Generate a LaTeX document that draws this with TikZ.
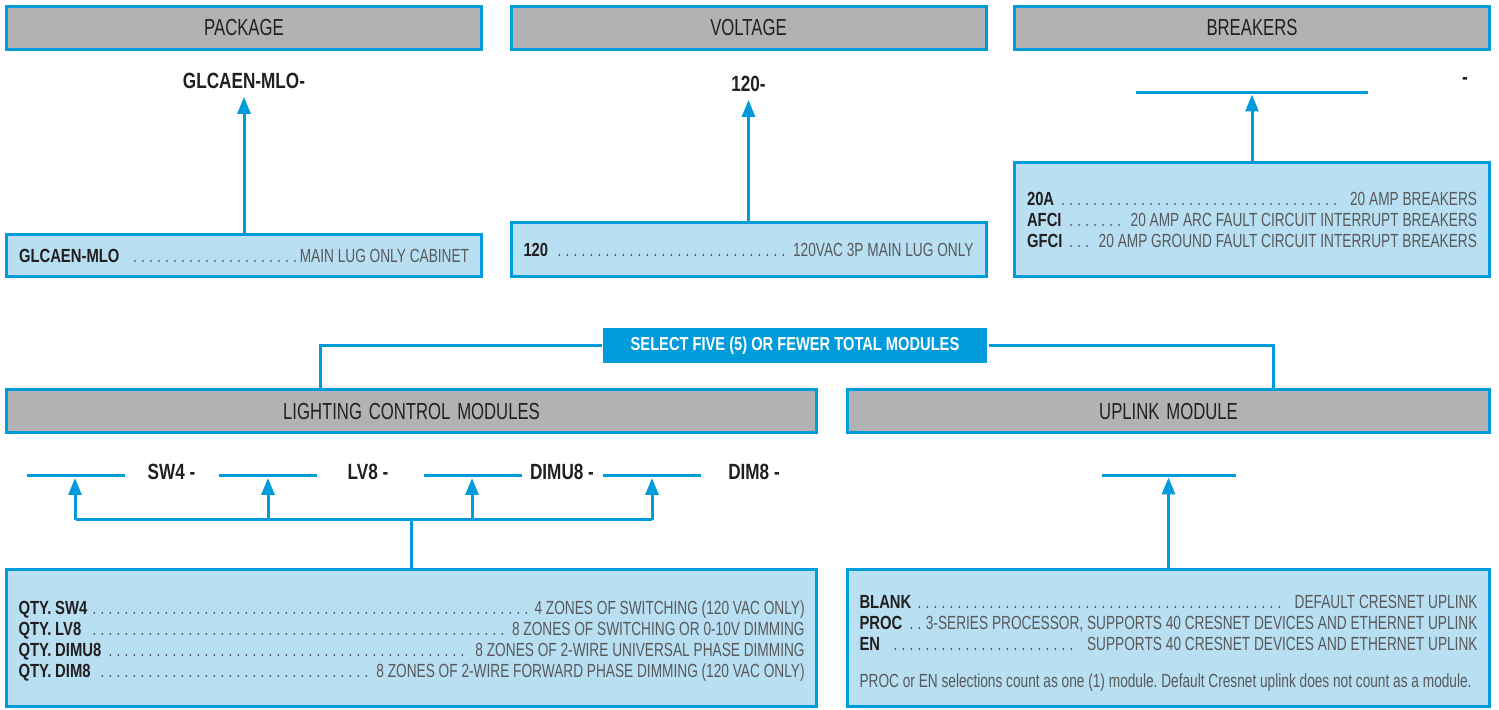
\documentclass[tikz,border=0pt]{standalone}
\usepackage{fontspec}
\setmainfont{Liberation Sans}[FakeStretch=0.72,BoldFeatures={FakeStretch=0.78}]
\usetikzlibrary{arrows.meta}
\usetikzlibrary{positioning}
\definecolor{lineblue}{RGB}{0,155,219}
\definecolor{boxblue}{RGB}{184,223,242}
\definecolor{hdrgray}{RGB}{177,178,180}
\definecolor{inkdark}{RGB}{35,31,32}
\definecolor{descgray}{RGB}{88,89,91}
\newcommand{\dotlead}{\leaders\hbox to 4pt{\hss.\hss}\hfill}
\newcommand{\optname}[1]{\textbf{\color{inkdark}#1}}
\frenchspacing
\begin{document}
\begin{tikzpicture}[
				x=0.5pt, y=-0.5pt,
				line width=1.5pt,
				hdr/.style={draw=lineblue, fill=hdrgray, inner sep=0pt, minimum height=21.5pt, text=inkdark, font=\fontsize{11.6}{13}\selectfont, execute at begin node={\spaceskip=3.4pt\relax}},
				infobox/.style={draw=lineblue, fill=boxblue, inner sep=0pt, align=left, text=descgray, font=\fontsize{9.5}{10.5}\selectfont, execute at begin node={\spaceskip=1.9pt plus 0.5pt\relax}},
				partno/.style={text=inkdark, font=\fontsize{11}{13}\selectfont\bfseries},
				blank/.style={inner sep=0pt, minimum height=0pt},
				arrow/.style={draw=lineblue, -{Triangle[length=8.5pt,width=6.5pt]}},
				link/.style={draw=lineblue},
			]
				\useasboundingbox (0,0) rectangle (1499,710);
				
				\node[hdr, minimum width=237.5pt] (package) at (244,28) {PACKAGE};
				\node[hdr, minimum width=237.5pt] (voltage) at (748.5,28) {VOLTAGE};
				\node[hdr, minimum width=237.5pt] (breakers) at (1252,28) {BREAKERS};
				
				\node[partno] (pkgcode) at (244,81) {GLCAEN-MLO-};
				\node[partno] (volcode) at (748.5,84) {120-};
				\node[blank, minimum width=114.5pt] (brkblank) at (1252,93) {};
				\node[partno] (brkdash) at (1465,81) {-};
				
				\node[infobox, minimum width=237.5pt, minimum height=21pt, text width=225pt] (pkgbox) at (244,255.5) {\optname{GLCAEN-MLO} \dotlead MAIN LUG ONLY CABINET};
				\node[infobox, minimum width=237.5pt, minimum height=27pt, text width=225pt] (volbox) at (748.5,249.5) {\optname{120} \dotlead 120VAC 3P MAIN LUG ONLY};
				\node[infobox, minimum width=237.5pt, minimum height=57pt, text width=225pt] (brkbox) at (1252,219.5) {\optname{20A} \dotlead\ 20 AMP BREAKERS\\
					\optname{AFCI} \dotlead\ 20 AMP ARC FAULT CIRCUIT INTERRUPT BREAKERS\\
					\optname{GFCI} \dotlead 20 AMP GROUND FAULT CIRCUIT INTERRUPT BREAKERS};
				
				\draw[arrow] (pkgbox) -- (pkgcode);
				\draw[arrow] (volbox) -- (volcode);
				\draw[link] (brkblank.west) -- (brkblank.east);
				\draw[arrow] (brkbox) -- (brkblank);
				
				\node[fill=lineblue, text=white, inner sep=0pt, minimum width=192pt, minimum height=17.5pt, font=\fontsize{9.4}{11}\selectfont\bfseries] (banner) at (795,345.5) {SELECT FIVE (5) OR FEWER TOTAL MODULES};
				\node[hdr, minimum width=405pt] (lcm) at (411.5,411.5) {LIGHTING CONTROL MODULES};
				\node[hdr, minimum width=321pt] (uplink) at (1168.5,411.5) {UPLINK MODULE};
				\coordinate (lcmtap) at (320,390);
				\coordinate (uptap) at (1273,390);
				\draw[link] (banner.west) -| (lcmtap);
				\draw[link] (banner.east) -| (uptap);
				
				\foreach \name/\x in {sw4/75.5, lv8/267.5, dimu8/472.5, dim8/651.5}
					\node[blank, minimum width=47.5pt] (b\name) at (\x,476) {};
				\node[partno] (lsw4) at (171.5,472) {SW4 -};
				\node[partno] (llv8) at (368,472) {LV8 -};
				\node[partno] (ldimu8) at (562,472) {DIMU8 -};
				\node[partno] (ldim8) at (754,472) {DIM8 -};
				\node[blank, minimum width=65.5pt] (upblank) at (1168.5,476) {};
				
				\node[infobox, minimum width=405pt, minimum height=68.5pt, text width=393pt] (lcmbox) at (411.5,638) {\rule{0pt}{10pt}\optname{QTY. SW4}\dotlead 4 ZONES OF SWITCHING (120 VAC ONLY)\\
					\optname{QTY. LV8} \dotlead 8 ZONES OF SWITCHING OR 0-10V DIMMING\\
					\optname{QTY. DIMU8}\dotlead\ 8 ZONES OF 2-WIRE UNIVERSAL PHASE DIMMING\\
					\optname{QTY. DIM8}\dotlead\ 8 ZONES OF 2-WIRE FORWARD PHASE DIMMING (120 VAC ONLY)};
				\node[infobox, minimum width=321pt, minimum height=68.5pt, text width=309pt] (upbox) at (1168.5,638) {\rule{0pt}{11.8pt}\optname{BLANK}\dotlead\ DEFAULT CRESNET UPLINK\\
					\optname{PROC}\dotlead 3-SERIES PROCESSOR, SUPPORTS 40 CRESNET DEVICES AND ETHERNET UPLINK\\
					\optname{EN} \dotlead\ SUPPORTS 40 CRESNET DEVICES AND ETHERNET UPLINK\\[8pt]
					PROC or EN selections count as one (1) module. Default Cresnet uplink does not count as a module.};
				
				\coordinate (lcmbus) at (411.5,520);
				\foreach \name in {sw4,lv8,dimu8,dim8}
					\draw[link] (b\name.west) -- (b\name.east);
				\draw[link] (lcmbox.north) -- (lcmbus);
				\draw[link] (bsw4.center |- lcmbus) -- (bdim8.center |- lcmbus);
				\foreach \name/\x in {sw4/75, lv8/268, dimu8/472, dim8/652}
					\draw[arrow] (\x,520) -- (\x,478);
				\draw[link] (upblank.west) -- (upblank.east);
				\draw[arrow] (upbox) -- (upblank);
			\end{tikzpicture}
\end{document}
